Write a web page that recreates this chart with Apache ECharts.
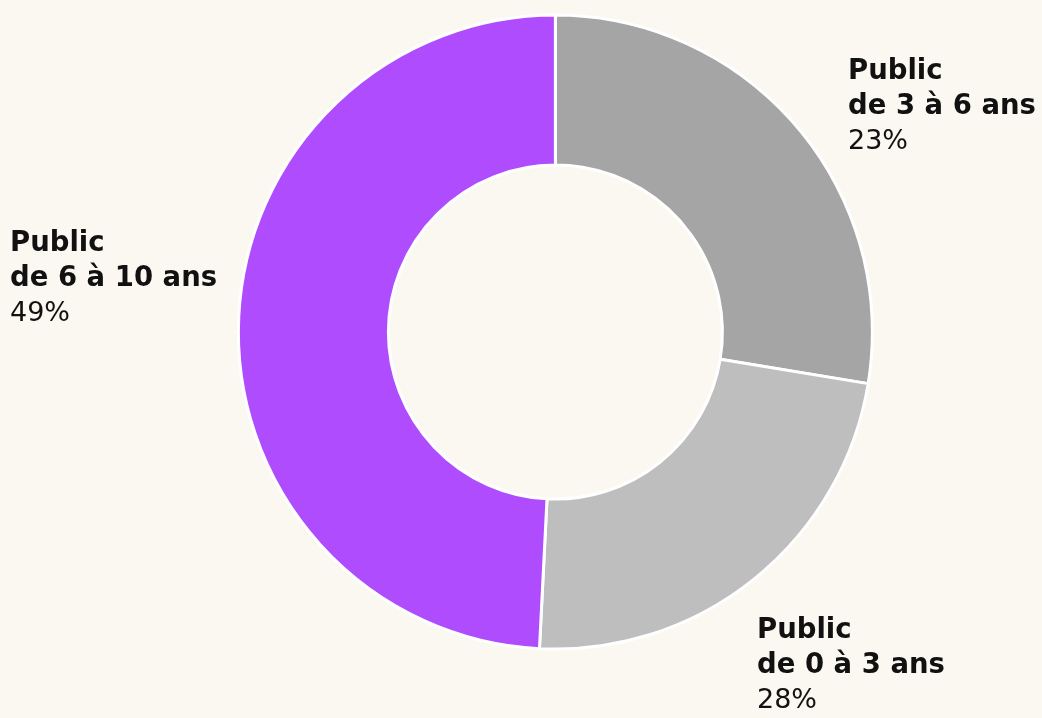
<!DOCTYPE html>
<html>
<head>
<meta charset="utf-8">
<script src="https://cdn.jsdelivr.net/npm/echarts@6/dist/echarts.min.js"></script>
<style>
html,body{margin:0;padding:0;background:#FBF8F1;}
#c{width:1042px;height:718px;}
</style>
</head>
<body>
<div id="c"></div>
<script>
// Slices clockwise from top, as drawn
const sliceNames = ['Public\nde 3 à 6 ans', 'Public\nde 0 à 3 ans', 'Public\nde 6 à 10 ans'];
const sliceValues = [27.6, 23.2, 49.2];        // angular share
const printedPercents = ['23%', '28%', '49%']; // percentages printed in the labels
const sliceColors = ['#A5A5A5', '#BEBEBE', '#AF4CFE'];

// label anchor (left edge, middle of second line) as fraction of chart size
const labelAnchors = [[848/1042, 107/718], [757/1042, 666/718], [10/1042, 279/718]];

const chart = echarts.init(document.getElementById('c'));
const W = 1042, H = 718;
chart.setOption({
  backgroundColor: '#FBF8F1',
  animation: false,
  series: [{
    type: 'pie',
    center: ['53.3%', '46.25%'],
    radius: [167, 317],
    startAngle: 90,
    clockwise: true,
    itemStyle: { borderColor: '#ffffff', borderWidth: 3 },
    labelLine: { show: false },
    label: {
      show: true,
      position: 'outside',
      overflow: 'none',
      fontFamily: 'DejaVu Sans',
      formatter: function (p) {
        const parts = sliceNames[p.dataIndex].split('\n');
        return '{b|' + parts[0] + '}\n{b|' + parts[1] + '}\n{n|' + printedPercents[p.dataIndex] + '}';
      },
      rich: {
        b: { fontFamily: 'DejaVu Sans', fontWeight: 'bold', fontSize: 27.5, color: '#111111', lineHeight: 35, align: 'left' },
        n: { fontFamily: 'DejaVu Sans', fontWeight: 'normal', fontSize: 27, color: '#111111', lineHeight: 35, align: 'left' }
      }
    },
    labelLayout: function (params) {
      const a = labelAnchors[params.dataIndex];
      return { x: a[0] * W, y: a[1] * H, align: 'left', verticalAlign: 'middle' };
    },
    data: sliceNames.map((n, i) => ({ name: n, value: sliceValues[i], itemStyle: { color: sliceColors[i] } }))
  }]
});
</script>
</body>
</html>
